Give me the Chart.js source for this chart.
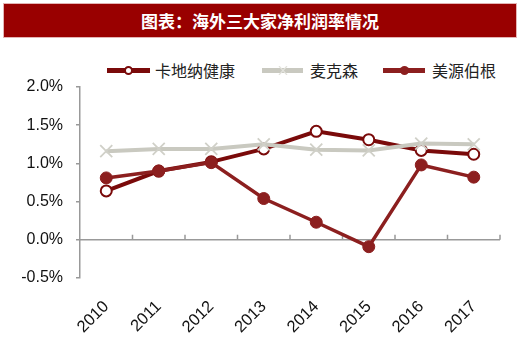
<!DOCTYPE html>
<html>
<head>
<meta charset="utf-8">
<script src="https://cdn.jsdelivr.net/npm/chart.js@4.4.0/dist/chart.umd.min.js"></script>
<style>
  html, body { margin: 0; padding: 0; background: #fff; }
  #wrap { position: relative; width: 520px; height: 351px; overflow: hidden; }
  #title {
    position: absolute; left: 3px; top: 3px; width: 512px; height: 33px;
    background: #990000; border: 1px solid #e4b4b4;
    color: #fff; font: bold 17px "Noto Sans CJK SC", sans-serif;
    line-height: 33px; text-align: center;
  }
  .leg { position: absolute; top: 59px; height: 22px; font: 16px "Noto Sans CJK SC", sans-serif; color: #222; line-height: 22px; }
  .legline { position: absolute; height: 5px; top: 68px; }
  .legdot { position: absolute; border-radius: 50%; box-sizing: border-box; }
  canvas { position: absolute; left: 0; top: 0; }
</style>
</head>
<body>
<div id="wrap">
  <div id="title">图表：海外三大家净利润率情况</div>

  <div class="legline" style="left:107px;width:43px;background:#7a0a0a;"></div>
  <div class="legdot" style="left:124px;top:66px;width:9px;height:9px;background:#fff;border:2px solid #7a0a0a;"></div>
  <div class="leg" style="left:155px;">卡地纳健康</div>

  <div class="legline" style="left:262px;width:41px;background:#c9c9c0;"></div>
  <svg style="position:absolute;left:278px;top:66px;" width="10" height="9">
    <path d="M1 0 L9 9 M9 0 L1 9" stroke="#e2e2dc" stroke-width="1.2"/>
  </svg>
  <div class="leg" style="left:310px;">麦克森</div>

  <div class="legline" style="left:383px;width:42px;background:#8c1f1f;"></div>
  <div class="legdot" style="left:400px;top:66px;width:9px;height:9px;background:#8c1f1f;"></div>
  <div class="leg" style="left:432px;">美源伯根</div>

  <canvas id="c" width="520" height="351"></canvas>
</div>
<script>
const years = ['2010', '2011', '2012', '2013', '2014', '2015', '2016', '2017'];
const cardinal = [0.64, 0.90, 1.02, 1.19, 1.42, 1.31, 1.17, 1.12];
const mckesson = [1.16, 1.19, 1.19, 1.25, 1.18, 1.17, 1.26, 1.25];
const amerisource = [0.81, 0.90, 1.01, 0.54, 0.23, -0.09, 0.98, 0.82];
const yTicks = [-0.5, 0, 0.5, 1.0, 1.5, 2.0];

// zero line + small upward tick marks between categories
const zeroAxis = {
    id: 'zeroAxis',
    beforeDatasetsDraw(chart) {
        const { ctx, chartArea, scales } = chart;
        const y0 = scales.y.getPixelForValue(0);
        ctx.save();
        ctx.strokeStyle = '#999';
        ctx.lineWidth = 1.5;
        ctx.beginPath();
        ctx.moveTo(chartArea.left, y0);
        ctx.lineTo(chartArea.right, y0);
        for (let i = 0; i < years.length; i++) {
            const x = scales.x.getPixelForValue(i + 0.5);
            ctx.moveTo(x, y0);
            ctx.lineTo(x, y0 - 5);
        }
        ctx.stroke();
        ctx.restore();
    }
};

new Chart(document.getElementById('c'), {
    type: 'line',
    data: {
        labels: years,
        datasets: [
            {
                label: '卡地纳健康',
                data: cardinal,
                borderColor: '#7a0a0a',
                borderWidth: 4,
                pointRadius: 5.5,
                pointBackgroundColor: '#fff',
                pointBorderColor: '#7a0a0a',
                pointBorderWidth: 2,
                order: 2
            },
            {
                label: '麦克森',
                data: mckesson,
                borderColor: '#c9c9c0',
                borderWidth: 4,
                pointStyle: 'crossRot',
                pointRadius: 8.5,
                pointBorderColor: '#d0d0c8',
                pointBorderWidth: 1.8,
                order: 1
            },
            {
                label: '美源伯根',
                data: amerisource,
                borderColor: '#8c1f1f',
                borderWidth: 3.5,
                pointRadius: 6,
                pointBackgroundColor: '#8c1f1f',
                pointBorderColor: '#8c1f1f',
                pointBorderWidth: 1,
                order: 0
            }
        ]
    },
    options: {
        responsive: false,
        animation: false,
        layout: { padding: { top: 87, right: 20, left: 0, bottom: 0 } },
        plugins: { legend: { display: false }, tooltip: { enabled: false } },
        scales: {
            x: {
                offset: true,
                border: { display: false },
                grid: { display: false },
                ticks: {
                    autoSkip: false,
                    maxRotation: 45,
                    minRotation: 45,
                    padding: 11,
                    color: '#111',
                    font: { family: '"Liberation Sans", Arial, sans-serif', size: 16.5 }
                },
                afterFit(scale) { scale.height = 73; }
            },
            y: {
                min: -0.5,
                max: 2.0,
                afterBuildTicks(scale) { scale.ticks = yTicks.map(v => ({ value: v })); },
                border: { display: true, color: '#999', width: 1.5 },
                grid: { drawOnChartArea: false, drawTicks: true, tickLength: 4, color: '#999', lineWidth: 1.5 },
                ticks: {
                    padding: 13,
                    color: '#111',
                    font: { family: '"Liberation Sans", Arial, sans-serif', size: 16 },
                    callback: v => v.toFixed(1) + '%'
                },
                afterFit(scale) { scale.width = 80; }
            }
        }
    },
    plugins: [zeroAxis]
});
</script>
</body>
</html>
